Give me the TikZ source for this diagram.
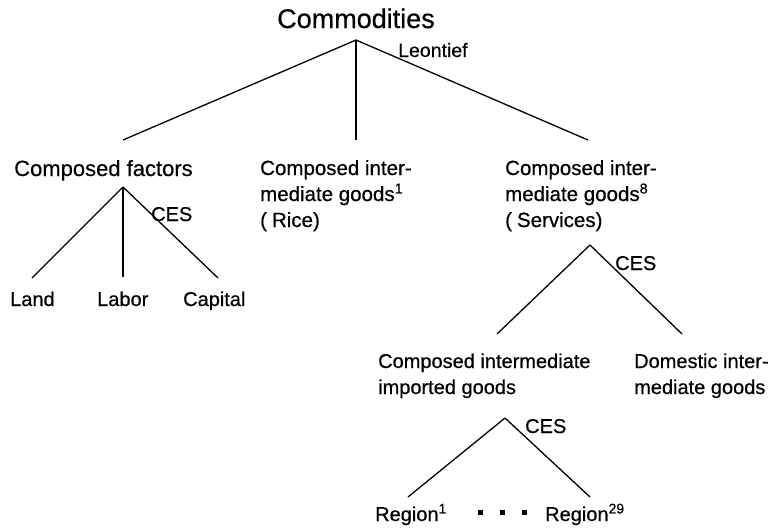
\documentclass[tikz,border=0pt]{standalone}
\usepackage{fontspec}
\setmainfont{Liberation Sans}[FakeBold=0.5]
\begin{document}
\begin{tikzpicture}[x=1pt,y=-1pt,
  lbl/.style={inner sep=0pt, anchor=base west, font=\fontsize{20}{26}\selectfont},
  blk/.style={inner sep=0pt, anchor=base west, font=\fontsize{20.5}{26}\selectfont},
  edge/.style={draw=black, line width=1.3pt},
  dotsq/.style={fill=black}]
\fill[white] (0,0) rectangle (780,530);
\useasboundingbox (0,0) rectangle (780,530);
% top level
\node[inner sep=0pt, anchor=base, font=\fontsize{27}{30}\selectfont] (comm) at (356,28) {Commodities};
\node[inner sep=0pt, anchor=base west, font=\fontsize{19.5}{22}\selectfont] (leon) at (398,57) {Leontief};
\coordinate (t0) at (356,40);
\coordinate (t1) at (123,140);
\coordinate (t2) at (356,140);
\coordinate (t3) at (588,140);
\draw[edge] (t0) -- (t1);
\draw[edge] (t0) -- (t2);
\draw[edge] (t0) -- (t3);
% second level labels
\node[inner sep=0pt, anchor=base west, font=\fontsize{22}{26}\selectfont] (cf) at (14,176) {Composed factors};
\node[blk] (rice) at (260,175) {\begin{tabular}[t]{@{}l@{}}Composed inter-\\mediate goods\textsuperscript{1}\\(\hspace{5pt}Rice)\end{tabular}};
\node[blk] (serv) at (505,175) {\begin{tabular}[t]{@{}l@{}}Composed inter-\\mediate goods\textsuperscript{8}\\(\hspace{5pt}Services)\end{tabular}};
% factors subtree
\coordinate (f0) at (123,187);
\coordinate (f1) at (32,278);
\coordinate (f2) at (123,277);
\coordinate (f3) at (218,278);
\draw[edge] (f0) -- (f1);
\draw[edge] (f0) -- (f2);
\draw[edge] (f0) -- (f3);
\node[lbl] (ces1) at (151,221) {CES};
\node[lbl] (land) at (10,306) {Land};
\node[lbl] (labor) at (97,306) {Labor};
\node[lbl] (cap) at (183,306) {Capital};
% services subtree
\coordinate (s0) at (590,245);
\coordinate (s1) at (497,334);
\coordinate (s2) at (682,334);
\draw[edge] (s0) -- (s1);
\draw[edge] (s0) -- (s2);
\node[lbl] (ces2) at (615,270) {CES};
\node[lbl] (imp) at (378,368) {\begin{tabular}[t]{@{}l@{}}Composed intermediate\\imported goods\end{tabular}};
\node[lbl] (dom) at (634,368) {\begin{tabular}[t]{@{}l@{}}Domestic inter-\\mediate goods\end{tabular}};
% imports subtree
\coordinate (r0) at (505,418);
\coordinate (r1) at (408,497);
\coordinate (r2) at (590,497);
\draw[edge] (r0) -- (r1);
\draw[edge] (r0) -- (r2);
\node[lbl] (ces3) at (525,433) {CES};
\node[lbl] (reg1) at (375,521) {Region\textsuperscript{1}};
\node[lbl] (reg29) at (545,521) {Region\textsuperscript{29}};
\fill[dotsq] (478,510) rectangle +(4.5,4.5);
\fill[dotsq] (500,510) rectangle +(4.5,4.5);
\fill[dotsq] (522,510) rectangle +(4.5,4.5);
\end{tikzpicture}
\end{document}
